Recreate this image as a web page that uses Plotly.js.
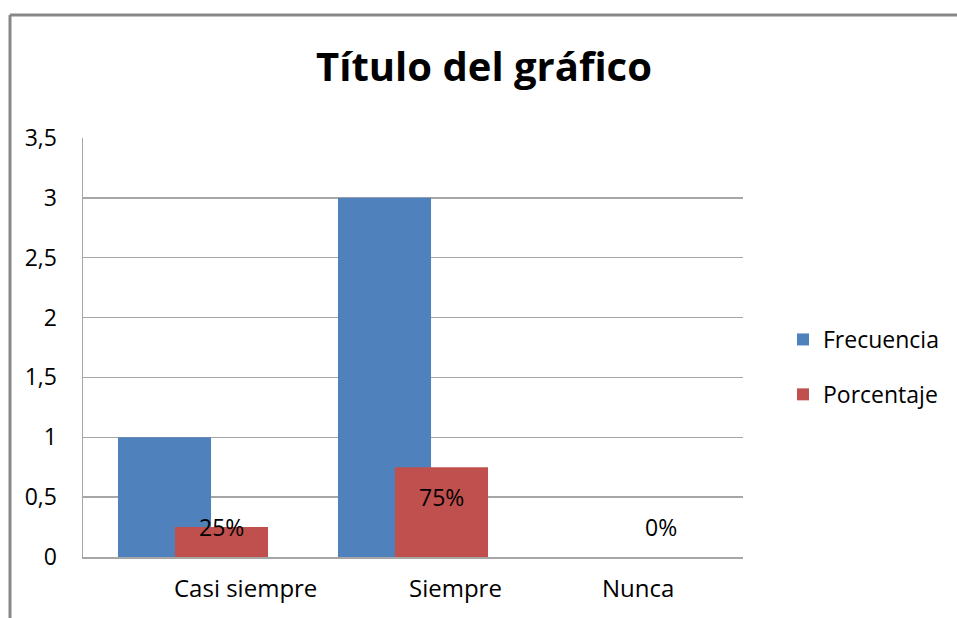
<!DOCTYPE html>
<html>
<head>
<meta charset="utf-8">
<script src="https://cdn.plot.ly/plotly-3.0.1.min.js"></script>
<style>
  html, body { margin: 0; padding: 0; background: #fff; }
  #chart { width: 957px; height: 618px; }
</style>
</head>
<body>
<div id="chart"></div>
<script>
const categories = ['Casi siempre', 'Siempre', 'Nunca'];
const frecuencia = [1, 3, 0];
const porcentaje = [0.25, 0.75, 0];
const porcentajeLabels = ['25%', '75%', '0%'];
const seriesNames = ['Frecuencia', 'Porcentaje'];
const yTicks = [0, 0.5, 1, 1.5, 2, 2.5, 3, 3.5];

const W = 957, H = 618;
const M = { l: 83, r: 214, t: 138, b: 61 };
const plotW = W - M.l - M.r, plotH = H - M.t - M.b;
const FONT = 'Open Sans, Noto Sans, sans-serif';
const barW = 0.423, blueOff = -0.341, redOff = -0.082;

const traces = [
  {
    type: 'bar', name: seriesNames[0], x: categories, y: frecuencia,
    width: barW, offset: blueOff, marker: { color: '#4F81BD' },
    legendgroup: 'a', hoverinfo: 'none'
  },
  {
    type: 'bar', name: seriesNames[1], x: categories, y: porcentaje,
    width: barW, offset: redOff, marker: { color: '#C0504D' },
    legendgroup: 'b', hoverinfo: 'none'
  }
];

const annotations = [];
// data labels for the Porcentaje series
porcentaje.forEach((v, i) => {
  annotations.push({
    xref: 'x', yref: 'y', x: i + redOff + barW / 2, y: Math.min(Math.max(v, 0.25), 0.5),
    text: porcentajeLabels[i], showarrow: false, xanchor: 'center', yanchor: 'middle',
    font: { family: FONT, size: 23, color: '#000' }
  });
});
// category labels
const catShift = [52, 42, 5];
categories.forEach((c, i) => {
  annotations.push({
    xref: 'x', yref: 'paper', x: i, y: 0, yshift: -30, xshift: catShift[i],
    text: c, showarrow: false, xanchor: 'center', yanchor: 'middle',
    font: { family: FONT, size: 24, color: '#000' }
  });
});

const px2x = p => (p - M.l) / plotW;
const py2y = p => (H - M.b - p) / plotH;

const layout = {
  width: W, height: H,
  margin: M,
  paper_bgcolor: '#fff', plot_bgcolor: '#fff',
  separators: ',.',
  barmode: 'overlay',
  title: {
    text: 'Título del gráfico',
    font: { family: FONT, size: 40, color: '#000', weight: 'bold' },
    x: 484 / W, xref: 'container', xanchor: 'center',
    y: 1 - 67 / H, yref: 'container', yanchor: 'middle'
  },
  xaxis: {
    type: 'category', range: [-0.5, 2.5], showticklabels: false,
    showgrid: false, showline: true, linecolor: '#A6A6A6', linewidth: 2,
    ticks: '', fixedrange: true
  },
  yaxis: {
    range: [0, 3.5], tickvals: yTicks, showgrid: true, gridcolor: '#A6A6A6', gridwidth: 1.5,
    zeroline: false, showline: true, linecolor: '#A6A6A6', linewidth: 1.5,
    ticks: '', ticklabelstandoff: 20,
    tickfont: { family: FONT, size: 23, color: '#000' }, fixedrange: true
  },
  legend: {
    x: px2x(783), xanchor: 'left', y: py2y(318), yanchor: 'top',
    font: { family: FONT, size: 23, color: '#000' },
    traceorder: 'grouped', tracegroupgap: 22, bgcolor: 'rgba(0,0,0,0)'
  },
  showlegend: true,
  annotations: annotations,
  shapes: [
    { type: 'line', xref: 'paper', yref: 'paper', x0: px2x(10), x1: px2x(W + 5), y0: py2y(15), y1: py2y(15),
      line: { color: '#878787', width: 3 } },
    { type: 'line', xref: 'paper', yref: 'paper', x0: px2x(10), x1: px2x(10), y0: py2y(15), y1: py2y(H + 5),
      line: { color: '#878787', width: 3 } }
  ]
};

Plotly.newPlot('chart', traces, layout, { staticPlot: true, displayModeBar: false });
</script>
</body>
</html>
